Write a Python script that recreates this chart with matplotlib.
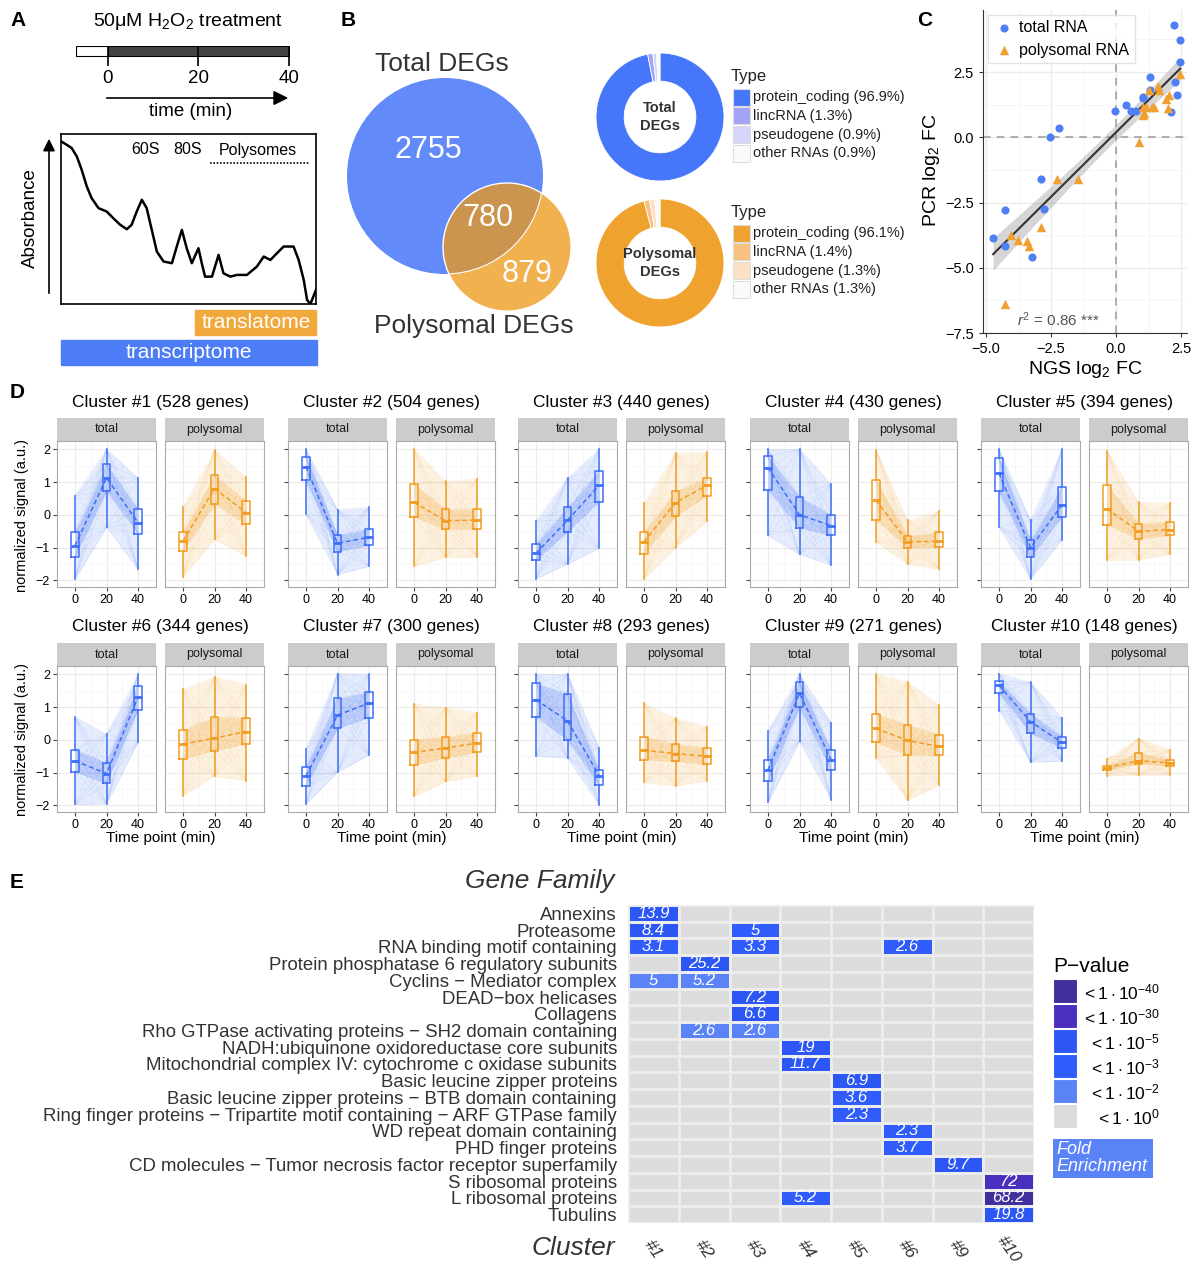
import numpy as np
import matplotlib
matplotlib.use('Agg')
import matplotlib.pyplot as plt
from matplotlib.patches import Circle, Rectangle
from matplotlib.colors import ListedColormap, BoundaryNorm

plt.rcParams['font.family'] = ['Liberation Sans', 'DejaVu Sans']
plt.rcParams['mathtext.fontset'] = 'custom'
plt.rcParams['mathtext.rm'] = 'Liberation Sans'
plt.rcParams['mathtext.it'] = 'Liberation Sans:italic'

# ---------------- DATA ----------------
# Panel A: treatment timeline and polysome profile
timeline_ticks = [0, 20, 40]
profile_pos = [0, 2.2, 4.2, 6.2, 8.1, 10.1, 12.0, 14.7, 17.9, 20.5, 23.2, 25.8, 27.7, 29.7, 31.7,
               33.6, 35.6, 37.6, 40.2, 43.5, 45.4, 47.4, 49.3, 51.3, 53.9, 55.2, 56.5, 59.2, 61.8,
               63.7, 66.4, 69.0, 72.9, 76.8, 79.5, 82.1, 84.7, 87.3, 91.2, 93.2, 95.2, 96.5, 97.8, 100]
profile_abs = [95.7, 93.7, 91.7, 86.8, 79.0, 69.2, 62.3, 56.4, 54.4, 50.5, 46.6, 44.0, 46.6, 54.4,
               61.3, 56.4, 43.6, 30.8, 25.0, 24.0, 33.8, 43.6, 32.8, 24.0, 32.8, 24.0, 16.1, 16.1,
               28.9, 18.1, 16.1, 17.1, 17.1, 22.0, 27.9, 25.9, 29.9, 33.8, 33.8, 25.9, 14.1, 2.4, 0, 8.3]

# Panel B: Venn counts and RNA type composition
venn_total_only = 2755
venn_both = 780
venn_poly_only = 879
rna_types = ['protein_coding', 'lincRNA', 'pseudogene', 'other RNAs']
total_type_pct = [96.9, 1.3, 0.9, 0.9]
poly_type_pct = [96.1, 1.4, 1.3, 1.3]

# Panel C: NGS vs PCR log2 FC
total_ngs = [2.22, 2.46, 2.47, 1.31, 2.27, 1.31, 2.33, 1.05, 1.05, 0.40, 0.58, -0.04, 0.77, 2.13,
             -2.21, -2.56, -2.90, -2.76, -4.28, -4.73, -4.26, -3.24]
total_pcr = [4.31, 3.72, 2.90, 2.32, 2.12, 1.82, 1.64, 1.54, 1.51, 1.24, 1.01, 1.01, 1.00, 0.97,
             0.35, 0.01, -1.58, -2.76, -2.77, -3.85, -4.17, -4.59]
poly_ngs = [2.46, 1.60, 1.64, 1.28, 2.04, 1.92, 1.03, 1.15, 1.47, 1.38, 2.00, 1.09, 1.03, 0.87,
            -2.26, -1.47, -4.04, -3.78, -3.44, -3.36, -2.87, -4.28]
poly_pcr = [2.41, 1.95, 1.82, 1.82, 1.63, 1.46, 1.18, 1.18, 1.18, 1.15, 1.13, 0.95, 0.86, -0.18,
            -1.58, -1.58, -3.76, -3.92, -3.99, -4.15, -3.44, -6.38]

# Panel D: clusters, box stats [whislo, q1, median, q3, whishi] at 0, 20, 40 min
time_points = [0, 20, 40]
cluster_ids = [1, 2, 3, 4, 5, 6, 7, 8, 9, 10]
cluster_genes = [528, 504, 440, 430, 394, 344, 300, 293, 271, 148]
total_box = [
    [[-1.97, -1.29, -0.94, -0.53, 0.58], [-0.38, 0.73, 1.13, 1.54, 2.0], [-1.66, -0.58, -0.24, 0.17, 1.12]],
    [[0.01, 1.05, 1.47, 1.77, 2.0], [-1.82, -1.12, -0.87, -0.62, 0.15], [-1.57, -0.93, -0.68, -0.43, 0.23]],
    [[-1.95, -1.38, -1.17, -0.88, -0.18], [-1.5, -0.52, -0.17, 0.23, 1.13], [-1.02, 0.4, 0.9, 1.33, 2.0]],
    [[-0.63, 0.75, 1.44, 1.78, 2.0], [-1.2, -0.4, 0.0, 0.55, 2.0], [-1.53, -0.62, -0.33, 0.0, 0.95]],
    [[-0.37, 0.73, 1.27, 1.72, 2.0], [-1.95, -1.3, -1.0, -0.78, -0.17], [-0.76, -0.06, 0.3, 0.84, 2.0]],
    [[-1.97, -0.98, -0.64, -0.3, 0.7], [-1.95, -1.33, -1.03, -0.7, 0.17], [-0.08, 0.92, 1.3, 1.64, 2.0]],
    [[-1.96, -1.4, -1.1, -0.83, -0.28], [-0.99, 0.35, 0.75, 1.26, 2.02], [-0.46, 0.68, 1.12, 1.46, 2.0]],
    [[-0.5, 0.7, 1.22, 1.72, 2.0], [-0.55, 0.0, 0.58, 1.4, 2.0], [-1.98, -1.38, -1.09, -0.92, -0.24]],
    [[-1.91, -1.27, -0.92, -0.63, 0.26], [-0.05, 1.0, 1.42, 1.75, 2.02], [-1.82, -0.92, -0.6, -0.3, 0.52]],
    [[0.89, 1.42, 1.66, 1.78, 2.02], [-0.68, 0.2, 0.55, 0.8, 1.75], [-0.65, -0.25, -0.08, 0.1, 0.67]],
]
poly_box = [
    [[-1.88, -1.1, -0.8, -0.53, 0.25], [-0.75, 0.33, 0.8, 1.2, 1.97], [-1.25, -0.28, 0.07, 0.42, 1.15]],
    [[-1.57, -0.07, 0.38, 0.95, 2.0], [-1.3, -0.44, -0.18, 0.17, 1.02], [-1.28, -0.44, -0.16, 0.18, 1.1]],
    [[-1.96, -1.18, -0.82, -0.52, 0.37], [-1.0, -0.04, 0.37, 0.72, 1.88], [-0.2, 0.57, 0.9, 1.13, 1.92]],
    [[-0.83, -0.15, 0.45, 1.05, 1.98], [-1.5, -1.0, -0.82, -0.65, -0.17], [-1.65, -0.99, -0.81, -0.53, 0.12]],
    [[-1.37, -0.3, 0.18, 0.92, 1.95], [-1.37, -0.73, -0.5, -0.27, 0.38], [-1.2, -0.63, -0.45, -0.22, 0.36]],
    [[-1.7, -0.57, -0.13, 0.31, 1.55], [-1.1, -0.33, 0.05, 0.7, 1.92], [-1.25, -0.12, 0.25, 0.68, 1.68]],
    [[-1.72, -0.77, -0.38, 0.0, 1.1], [-1.27, -0.55, -0.25, 0.1, 0.98], [-1.1, -0.38, -0.1, 0.22, 0.83]],
    [[-1.3, -0.6, -0.32, 0.1, 1.12], [-1.4, -0.66, -0.42, -0.13, 0.65], [-1.25, -0.75, -0.5, -0.25, 0.4]],
    [[-0.55, -0.07, 0.35, 0.8, 2.0], [-1.84, -0.47, -0.02, 0.46, 1.77], [-1.37, -0.47, -0.2, 0.16, 1.06]],
    [[-1.1, -0.93, -0.85, -0.79, -0.57], [-1.07, -0.73, -0.64, -0.39, 0.04], [-1.07, -0.8, -0.7, -0.6, -0.3]],
]

# Panel E: gene family enrichment
gene_families = ['Annexins', 'Proteasome', 'RNA binding motif containing',
                 'Protein phosphatase 6 regulatory subunits', 'Cyclins − Mediator complex',
                 'DEAD−box helicases', 'Collagens',
                 'Rho GTPase activating proteins − SH2 domain containing',
                 'NADH:ubiquinone oxidoreductase core subunits',
                 'Mitochondrial complex IV: cytochrome c oxidase subunits',
                 'Basic leucine zipper proteins', 'Basic leucine zipper proteins − BTB domain containing',
                 'Ring finger proteins − Tripartite motif containing − ARF GTPase family',
                 'WD repeat domain containing', 'PHD finger proteins',
                 'CD molecules − Tumor necrosis factor receptor superfamily',
                 'S ribosomal proteins', 'L ribosomal proteins', 'Tubulins']
heat_clusters = ['#1', '#2', '#3', '#4', '#5', '#6', '#9', '#10']
# (row, column, fold enrichment, p-value class: 1=<1e-2, 2=<1e-3, 3=<1e-5, 4=<1e-30, 5=<1e-40)
fe_row = [0, 1, 1, 2, 2, 2, 3, 4, 4, 5, 6, 7, 7, 8, 9, 10, 11, 12, 13, 14, 15, 16, 17, 17, 18]
fe_col = [0, 0, 2, 0, 2, 5, 1, 0, 1, 2, 2, 1, 2, 3, 3, 4, 4, 4, 5, 5, 6, 7, 3, 7, 7]
fe_val = ['13.9', '8.4', '5', '3.1', '3.3', '2.6', '25.2', '5', '5.2', '7.2', '6.6', '2.6', '2.6',
          '19', '11.7', '6.9', '3.6', '2.3', '2.3', '3.7', '9.7', '72', '5.2', '68.2', '19.8']
fe_cls = [3, 3, 2, 2, 2, 2, 3, 1, 1, 3, 3, 1, 1, 3, 3, 3, 2, 2, 2, 2, 3, 4, 2, 5, 3]
pval_labels = [r'$<1\cdot10^{-40}$', r'$<1\cdot10^{-30}$', r'$<1\cdot10^{-5}$',
               r'$<1\cdot10^{-3}$', r'$<1\cdot10^{-2}$', r'$<1\cdot10^{0}$']
pval_colors = ['#41309c', '#4a2fbf', '#2c57f5', '#2f5cfb', '#5b83f8', '#dcdcdc']

# ---------------- FIGURE ----------------
W, H = 1193, 1264
fig = plt.figure(figsize=(W / 100, H / 100), dpi=100)


def add_ax(x0, y0, x1, y1, **kw):
    return fig.add_axes([x0 / W, 1 - y1 / H, (x1 - x0) / W, (y1 - y0) / H], **kw)


ov = add_ax(0, 0, W, H)
ov.set_xlim(0, W)
ov.set_ylim(H, 0)
ov.axis('off')
ov.set_zorder(10)
ov.patch.set_alpha(0)

for lbl, x, y in [('A', 10, 20), ('B', 341, 20), ('C', 917, 20), ('D', 10, 393), ('E', 10, 882)]:
    ov.text(x, y, lbl, fontsize=15, fontweight='bold', ha='left', va='center')

# ---------------- Panel A ----------------
ov.text(188, 22, r'50μM H$_2$O$_2$ treatment', fontsize=14, ha='center', va='center')
axt = add_ax(76, 46, 290, 66)
axt.set_xlim(-7.0, 40.3)
axt.set_ylim(0, 1)
axt.barh(0.75, 7.0, left=-7.0, height=0.48, color='white', edgecolor='black', lw=0.8)
axt.barh(0.75, 40, left=0, height=0.48, color='#444444', edgecolor='black', lw=0.8)
axt.vlines(timeline_ticks, 0, 1, color='black', lw=1.2)
axt.set_xticks(timeline_ticks)
axt.set_xticklabels([str(t) for t in timeline_ticks], fontsize=13.5)
axt.tick_params(axis='x', length=0, pad=3)
axt.set_yticks([])
for s in axt.spines.values():
    s.set_visible(False)
axt.patch.set_alpha(0)

ov.annotate('', xy=(291, 98), xytext=(104, 98),
            arrowprops=dict(arrowstyle='-|>', color='black', lw=1.2, mutation_scale=22))
ov.text(191, 111, 'time (min)', fontsize=13.5, ha='center', va='center')

axa = add_ax(61, 134, 316, 304)
axa.plot(profile_pos, profile_abs, color='black', lw=1.8)
axa.set_xlim(0, 100)
axa.set_ylim(0, 100)
axa.set_xticks([])
axa.set_yticks([])
for s in axa.spines.values():
    s.set_linewidth(1.2)
ov.text(145, 150, '60S', fontsize=11.5, ha='center', va='center')
ov.text(188, 150, '80S', fontsize=11.5, ha='center', va='center')
ov.text(258, 150, 'Polysomes', fontsize=11.5, ha='center', va='center')
ov.plot([210, 309], [163, 163], ls=(0, (1, 1)), color='black', lw=1.2)
ov.annotate('', xy=(49, 136), xytext=(49, 296),
            arrowprops=dict(arrowstyle='-|>', color='black', lw=1.2, mutation_scale=18))
ov.text(30, 218, 'Absorbance', fontsize=13.5, rotation=90, ha='center', va='center')
ov.add_patch(Rectangle((195, 310), 121, 25, color='#f2a93b'))
ov.text(256, 322, 'translatome', fontsize=15, color='white', ha='center', va='center')
ov.add_patch(Rectangle((61, 340), 256, 25, color='#4c7cf6'))
ov.text(189, 352, 'transcriptome', fontsize=15, color='white', ha='center', va='center')

# ---------------- Panel B ----------------
c_tot = Circle((445, 176), 98, fc='#628af9', ec='none', zorder=2)
c_pol = Circle((507, 247), 64, fc='#f0b14e', ec='white', lw=0.8, zorder=1)
ov.add_patch(c_pol)
ov.add_patch(c_tot)
c_int = Circle((507, 247), 64, fc='#cb9550', ec='white', lw=1.0, zorder=3)
ov.add_patch(c_int)
c_int.set_clip_path(c_tot)
c_tot_edge = Circle((445, 176), 98, fc='none', ec='white', lw=0.8, zorder=4)
ov.add_patch(c_tot_edge)
c_tot_edge.set_clip_path(Circle((507, 247), 64, transform=ov.transData))
ov.text(428, 150, f'{venn_total_only}', fontsize=22, color='white', ha='center', va='center', zorder=5)
ov.text(488, 218, f'{venn_both}', fontsize=22, color='white', ha='center', va='center', zorder=5)
ov.text(527, 274, f'{venn_poly_only}', fontsize=22, color='white', ha='center', va='center', zorder=5)
ov.text(442, 64, 'Total DEGs', fontsize=19, color='#333333', ha='center', va='center')
ov.text(474, 326, 'Polysomal DEGs', fontsize=19, color='#333333', ha='center', va='center')

tot_cols = ['#4677fb', '#a3a3f7', '#d4d4fc', '#fafafa']
pol_cols = ['#f0a22e', '#f7c07e', '#fde1c2', '#fafafa']
for (cy, pct, cols, label, ly) in [(117, total_type_pct, tot_cols, 'Total\nDEGs', 77),
                                     (263, poly_type_pct, pol_cols, 'Polysomal\nDEGs', 213)]:
    axd = add_ax(596, cy - 64, 724, cy + 64)
    axd.pie(pct, colors=cols, startangle=90, counterclock=False, radius=1.0,
            wedgeprops=dict(width=0.44, edgecolor='white', linewidth=0.6))
    axd.set_xlim(-1, 1)
    axd.set_ylim(-1, 1)
    axd.set_aspect('auto')
    axd.text(0, 0, label, fontsize=10.5, fontweight='bold', color='#333333', ha='center',
             va='center', linespacing=1.4)
    ov.text(731, ly, 'Type', fontsize=12, ha='left', va='center', color='#222222')
    for i, (t, p) in enumerate(zip(rna_types, pct)):
        yy = ly + 20 + i * 18.8
        ov.add_patch(Rectangle((733, yy - 8.5), 17, 17, fc=cols[i], ec='#dddddd', lw=0.8))
        ov.text(753, yy, f'{t} ({p}%)', fontsize=10.5, ha='left', va='center', color='#222222')

# ---------------- Panel C ----------------
axc = add_ax(983, 10, 1187, 333)
axc.set_xlim(-5.12, 2.73)
axc.set_ylim(-7.5, 4.88)
axc.set_xticks([-5.0, -2.5, 0.0, 2.5])
axc.set_yticks([-7.5, -5.0, -2.5, 0.0, 2.5])
axc.set_xticks([-3.75, -1.25, 1.25], minor=True)
axc.set_yticks([-6.25, -3.75, -1.25, 1.25, 3.75], minor=True)
axc.grid(True, which='major', color='#ebebeb', lw=0.9)
axc.grid(True, which='minor', color='#f4f4f4', lw=0.6)
axc.set_axisbelow(True)
axc.tick_params(which='minor', length=0)
axc.tick_params(which='major', labelsize=10.5, length=3, color='#333333')
for s in ['top', 'right']:
    axc.spines[s].set_visible(False)
for s in ['left', 'bottom']:
    axc.spines[s].set_color('#333333')
axc.axhline(0, color='#999999', ls=(0, (5, 4)), lw=1.1)
axc.axvline(0, color='#999999', ls=(0, (5, 4)), lw=1.1)
xall = np.array(total_ngs + poly_ngs)
yall = np.array(total_pcr + poly_pcr)
slope, icpt = np.polyfit(xall, yall, 1)
xs = np.linspace(xall.min(), xall.max(), 100)
yfit = slope * xs + icpt
resid = yall - (slope * xall + icpt)
n = len(xall)
s_err = np.sqrt(np.sum(resid ** 2) / (n - 2))
se = s_err * np.sqrt(1 / n + (xs - xall.mean()) ** 2 / np.sum((xall - xall.mean()) ** 2))
axc.fill_between(xs, yfit - 2.02 * se, yfit + 2.02 * se, color='#999999', alpha=0.4, lw=0)
axc.plot(xs, yfit, color='#333333', lw=1.5)
axc.scatter(total_ngs, total_pcr, s=34, marker='o', color='#4f7ff5', label='total RNA', zorder=3, lw=0)
axc.scatter(poly_ngs, poly_pcr, s=46, marker='^', color='#f0a030', label='polysomal RNA', zorder=3, lw=0)
leg = axc.legend(loc='upper left', fontsize=11.5, frameon=True, handletextpad=0.3, borderpad=0.35,
                 labelspacing=0.45, handlelength=1.3, borderaxespad=0.3, fancybox=False)
leg.get_frame().set_edgecolor('#dddddd')
axc.text(-2.2, -7.0, r'$r^2$ = 0.86 ***', fontsize=11, color='#555555', ha='center', va='center')
ov.text(1085, 369, r'NGS log$_2$ FC', fontsize=14, ha='center', va='center')
ov.text(931, 170, r'PCR log$_2$ FC', fontsize=14, rotation=90, ha='center', va='center')

# ---------------- Panel D ----------------
blue = '#3d6ef7'
orange = '#f29c1f'
col_left = [57, 288, 518, 750, 981]
row_geo = [(418, 441, 587, 403), (643, 666, 812, 627)]
pw = 99
for ci in range(10):
    r, c = divmod(ci, 5)
    st, pt, pb, ty = row_geo[r]
    x0 = col_left[c]
    ov.text(x0 + 103.5, ty, f'Cluster #{cluster_ids[ci]} ({cluster_genes[ci]} genes)', fontsize=12.5,
            ha='center', va='center')
    for k, (kind, stats, colr) in enumerate([('total', total_box[ci], blue),
                                             ('polysomal', poly_box[ci], orange)]):
        xl = x0 + k * 108
        axs = add_ax(xl, st, xl + pw, pt)
        axs.set_facecolor('#cccccc')
        axs.set_xticks([])
        axs.set_yticks([])
        for s in axs.spines.values():
            s.set_visible(False)
        axs.text(0.5, 0.5, kind, fontsize=9, ha='center', va='center', transform=axs.transAxes,
                 color='#1a1a1a')
        ax = add_ax(xl, pt, xl + pw, pb)
        ax.set_xlim(-11.4, 51.4)
        ax.set_ylim(-2.2, 2.25)
        ax.set_xticks(time_points)
        ax.set_yticks([-2, -1, 0, 1, 2])
        ax.set_xticks([10, 30], minor=True)
        ax.set_yticks([-1.5, -0.5, 0.5, 1.5], minor=True)
        ax.grid(True, which='major', color='#ebebeb', lw=0.8)
        ax.grid(True, which='minor', color='#f5f5f5', lw=0.5)
        ax.set_axisbelow(True)
        ax.tick_params(which='minor', length=0)
        ax.tick_params(which='major', labelsize=9, length=3, color='#444444', pad=2)
        for s in ax.spines.values():
            s.set_color('#aaaaaa')
        if not (c == 0 and k == 0):
            ax.set_yticklabels([])
        if k == 1:
            ax.tick_params(axis='y', length=0)
        arr = np.array(stats)
        lo, q1, md, q3, hi = arr[:, 0], arr[:, 1], arr[:, 2], arr[:, 3], arr[:, 4]
        ax.fill_between(time_points, lo, hi, color=colr, alpha=0.13, lw=0)
        ax.fill_between(time_points, q1, q3, color=colr, alpha=0.22, lw=0)
        for seg in range(2):
            for a in arr[seg]:
                for b in arr[seg + 1]:
                    ax.plot([time_points[seg], time_points[seg + 1]], [a, b], color=colr,
                            alpha=0.10, lw=0.6)
        bstats = [dict(whislo=s[0], q1=s[1], med=s[2], q3=s[3], whishi=s[4], fliers=[]) for s in stats]
        ax.bxp(bstats, positions=time_points, widths=5, showcaps=False, manage_ticks=False,
               boxprops=dict(color=colr, lw=1.1), whiskerprops=dict(color=colr, lw=1.1),
               medianprops=dict(color=colr, lw=2.0))
        ax.plot(time_points, md, ls=(0, (3, 2)), color=colr, lw=1.1)
    if r == 1:
        ov.text(x0 + 103.5, 838, 'Time point (min)', fontsize=11, ha='center', va='center')
for yy in [515, 740]:
    ov.text(22, yy, 'normalized signal (a.u.)', fontsize=10.5, rotation=90, ha='center', va='center')

# ---------------- Panel E ----------------
nr, nc = len(gene_families), len(heat_clusters)
cls = np.zeros((nr, nc))
for rr, cc, cl in zip(fe_row, fe_col, fe_cls):
    cls[rr, cc] = cl
cmap = ListedColormap(['#dcdcdc', '#5b83f8', '#2f5cfb', '#2c57f5', '#4a2fbf', '#41309c'])
norm = BoundaryNorm(np.arange(-0.5, 6.5, 1), cmap.N)
axh = add_ax(628, 905, 1034, 1223)
axh.pcolormesh(np.arange(nc + 1), np.arange(nr + 1), cls, cmap=cmap, norm=norm,
               edgecolors='#ececec', linewidth=1.0)
axh.set_xlim(0, nc)
axh.set_ylim(nr, 0)
for rr, cc, v in zip(fe_row, fe_col, fe_val):
    axh.text(cc + 0.5, rr + 0.5, v, fontsize=12, style='italic', color='white', ha='center', va='center')
axh.set_yticks(np.arange(nr) + 0.5)
axh.set_yticklabels(gene_families, fontsize=13.4, color='#333333')
axh.tick_params(axis='y', length=0, pad=8)
axh.set_xticks([])
for s in axh.spines.values():
    s.set_visible(False)
for j, lab in enumerate(heat_clusters):
    ov.text(628 + (j + 0.5) * 406 / nc, 1249, lab, fontsize=12.5, rotation=-55, ha='center',
            va='center', color='#333333', style='italic')
ov.text(540, 881, 'Gene Family', fontsize=19, style='italic', color='#333333', ha='center', va='center')
ov.text(573, 1248, 'Cluster', fontsize=19, style='italic', color='#333333', ha='center', va='center')

ov.text(1053, 966, 'P−value', fontsize=15, ha='left', va='center')
for i, (pl, pc) in enumerate(zip(pval_labels, pval_colors)):
    yy = 979 + i * 25
    ov.add_patch(Rectangle((1053, yy), 24, 24, fc=pc, ec='white', lw=0.8))
    ov.text(1160, yy + 13, pl, fontsize=12.5, ha='right', va='center')
ov.add_patch(Rectangle((1053, 1139), 100, 39, fc='#5b83f8', ec='none'))
ov.text(1056, 1158, 'Fold\nEnrichment', fontsize=13, style='italic', color='white', ha='left',
        va='center', linespacing=1.0)

fig.savefig('out.png', dpi=100)
